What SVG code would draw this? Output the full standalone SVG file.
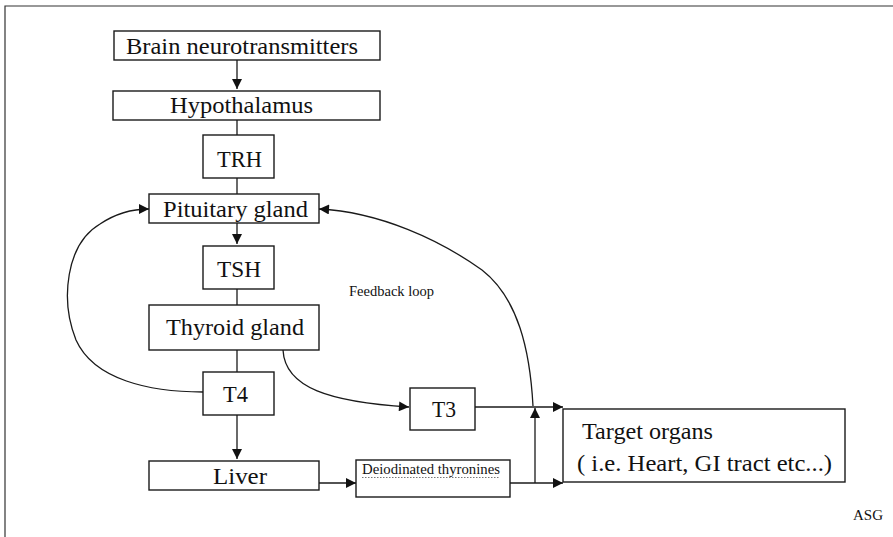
<svg xmlns="http://www.w3.org/2000/svg" width="893" height="537" viewBox="0 0 893 537">
<style>
.box{fill:#fff;stroke:#1a1a1a;stroke-width:1.4}
.ln{fill:none;stroke:#1a1a1a;stroke-width:1.3}
.t{font-family:'Liberation Serif','DejaVu Serif',serif;fill:#111;font-size:24px}
.s{font-family:'Liberation Serif','DejaVu Serif',serif;fill:#111;font-size:14px}
</style>
<defs>
<marker id="ah" viewBox="0 0 10 10" refX="10" refY="5" markerWidth="11" markerHeight="10" markerUnits="userSpaceOnUse" orient="auto">
<path d="M0,0 L10,5 L0,10 Z" fill="#111"/>
</marker>
</defs>
<rect width="893" height="537" fill="#fff"/>
<path d="M5,537 V6 H893" fill="none" stroke="#333" stroke-width="1.2"/>

<g id="connectors">
<line class="ln" x1="237" y1="60" x2="237" y2="89" marker-end="url(#ah)"/>
<line class="ln" x1="237" y1="120" x2="237" y2="135"/>
<line class="ln" x1="237" y1="178" x2="237" y2="194"/>
<line class="ln" x1="237" y1="223" x2="237" y2="244" marker-end="url(#ah)"/>
<line class="ln" x1="237" y1="289" x2="237" y2="305"/>
<line class="ln" x1="237" y1="350" x2="237" y2="372"/>
<line class="ln" x1="237" y1="415" x2="237" y2="459" marker-end="url(#ah)"/>
<line class="ln" x1="319" y1="483" x2="356" y2="483" marker-end="url(#ah)"/>
<line class="ln" x1="510" y1="483" x2="563" y2="483" marker-end="url(#ah)"/>
<line class="ln" x1="475" y1="407" x2="563" y2="407" marker-end="url(#ah)"/>
<line class="ln" x1="535" y1="483" x2="535" y2="408" marker-end="url(#ah)"/>
<path class="ln" d="M283,350 C285,388 330,402 409,407" marker-end="url(#ah)"/>
<path class="ln" d="M203,392 C150,392 94,380 76,340 C60,300 66,244 100,224 C115,214 130,209 149,209" marker-end="url(#ah)"/>
<path class="ln" d="M533,406 C530,350 518,298 482,270 C440,240 380,212 319,209" marker-end="url(#ah)"/>
</g>

<g id="brain"><rect class="box" x="114" y="31" width="266" height="29"/><text class="t" x="126" y="54" textLength="232" lengthAdjust="spacingAndGlyphs">Brain neurotransmitters</text></g>
<g id="hypothalamus"><rect class="box" x="113" y="91" width="267" height="29"/><text class="t" x="170" y="113" textLength="143" lengthAdjust="spacingAndGlyphs">Hypothalamus</text></g>
<g id="trh"><rect class="box" x="203" y="135" width="71" height="43"/><text class="t" x="217" y="167" textLength="45" lengthAdjust="spacingAndGlyphs">TRH</text></g>
<g id="pituitary"><rect class="box" x="149" y="194" width="170" height="29"/><text class="t" x="163" y="217" textLength="145" lengthAdjust="spacingAndGlyphs">Pituitary gland</text></g>
<g id="tsh"><rect class="box" x="203" y="246" width="71" height="43"/><text class="t" x="217" y="277" textLength="44" lengthAdjust="spacingAndGlyphs">TSH</text></g>
<g id="thyroid"><rect class="box" x="149" y="305" width="170" height="45"/><text class="t" x="166" y="335" textLength="138" lengthAdjust="spacingAndGlyphs">Thyroid gland</text></g>
<g id="t4"><rect class="box" x="203" y="372" width="71" height="43"/><text class="t" x="223" y="402" textLength="25" lengthAdjust="spacingAndGlyphs">T4</text></g>
<g id="liver"><rect class="box" x="149" y="461" width="170" height="29"/><text class="t" x="213" y="484" textLength="54" lengthAdjust="spacingAndGlyphs">Liver</text></g>
<g id="t3"><rect class="box" x="410" y="388" width="65" height="42"/><text class="t" x="432" y="417" textLength="24" lengthAdjust="spacingAndGlyphs">T3</text></g>
<g id="deiodinated"><rect class="box" x="356" y="460" width="154" height="37"/><text class="s" x="362" y="474" textLength="138" lengthAdjust="spacingAndGlyphs">Deiodinated thyronines</text><path d="M362,477.5 h138" stroke="#777" stroke-width="1" stroke-dasharray="1.5,1.5"/></g>
<g id="target"><rect class="box" x="563" y="409" width="282" height="73"/><text class="t" x="582" y="439" textLength="131" lengthAdjust="spacingAndGlyphs">Target organs</text><text class="t" x="577" y="471" textLength="255" lengthAdjust="spacingAndGlyphs">( i.e. Heart, GI tract etc...)</text></g>
<g id="labels"><text class="s" x="349" y="296" textLength="85" lengthAdjust="spacingAndGlyphs">Feedback loop</text><text class="s" x="853" y="520" textLength="30" lengthAdjust="spacingAndGlyphs">ASG</text></g>
</svg>
